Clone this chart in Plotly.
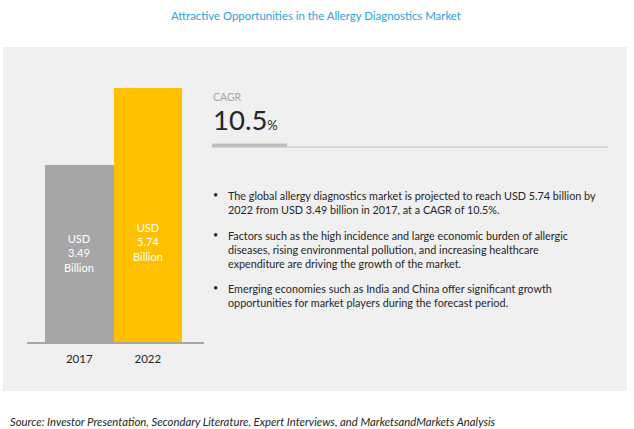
import plotly.graph_objects as go

W = 634
H = 429
FONT = "Lato"

years = ["2017", "2022"]
market_size = [3.49, 5.74]
bar_colors = ["#a6a6a6", "#ffc000"]
# bars in the source are not drawn from zero, the axis floor below reproduces their heights
axis_floor = -1.68

title = "Attractive Opportunities in the Allergy Diagnostics Market"
source = "<i>Source: Investor Presentation, Secondary Literature, Expert Interviews, and MarketsandMarkets Analysis</i>"
cagr = "10.5"
bullets = [
    "The global allergy diagnostics market is projected to reach USD 5.74 billion by<br>"
    "2022 from USD 3.49 billion in 2017, at a CAGR of 10.5%.",
    "Factors such as the high incidence and large economic burden of allergic<br>"
    "diseases, rising environmental pollution, and increasing healthcare<br>"
    "expenditure are driving the growth of the market.",
    "Emerging economies such as India and China offer significant growth<br>"
    "opportunities for market players during the forecast period.",
]
bullet_tops = [188.5, 228.5, 281.5]


def px_x(x):
    return x / W


def px_y(y):
    return 1 - y / H


def label(text, x, y, size, color="#262626", xanchor="left", yanchor="middle", align="left"):
    return dict(
        text=text, x=px_x(x), y=px_y(y), xref="paper", yref="paper",
        xanchor=xanchor, yanchor=yanchor, align=align, showarrow=False,
        font=dict(family=FONT, size=size, color=color),
        borderpad=0, borderwidth=0,
    )


fig = go.Figure()
fig.add_trace(
    go.Bar(
        x=years,
        y=[v - axis_floor for v in market_size],
        base=axis_floor,
        marker=dict(color=bar_colors, line=dict(width=0)),
        width=1,
        hoverinfo="skip",
    )
)

annotations = [
    label(title, 315.5, 15, 11.4, "#29a3d6", xanchor="center"),
    label(source, 10, 421, 11.3, "#262626"),
    label("CAGR", 213, 97, 10.5, "#a6a6a6"),
    label(f"{cagr}<span style='font-size:13px'>%</span>", 213, 119.5, 27.5),
    label(f"USD<br>{market_size[0]}<br>Billion", 79, 253, 11, "white", xanchor="center", align="center"),
    label(f"USD<br>{market_size[1]}<br>Billion", 148, 242, 11, "white", xanchor="center", align="center"),
]
for text, top in zip(bullets, bullet_tops):
    annotations.append(label("•", 213, top, 9, yanchor="top"))
    annotations.append(label(text, 228, top, 10.8, yanchor="top"))

shapes = [
    dict(type="rect", xref="paper", yref="paper", x0=px_x(3), x1=px_x(627), y0=px_y(391), y1=px_y(47),
         fillcolor="#f0f0f0", line_width=0, layer="below"),
    dict(type="rect", xref="paper", yref="paper", x0=px_x(212), x1=px_x(287), y0=px_y(147.5), y1=px_y(143.5),
         fillcolor="#bfbfbf", line_width=0, layer="below"),
    dict(type="line", xref="paper", yref="paper", x0=px_x(287), x1=px_x(608), y0=px_y(147), y1=px_y(147),
         line=dict(color="#bfbfbf", width=1), layer="below"),
]

fig.update_layout(
    width=W,
    height=H,
    margin=dict(l=0, r=0, t=0, b=0),
    paper_bgcolor="white",
    plot_bgcolor="rgba(0,0,0,0)",
    showlegend=False,
    bargap=0,
    annotations=annotations,
    shapes=shapes,
    xaxis=dict(
        domain=[px_x(27), px_x(204)],
        type="category",
        range=[-0.763, 1.82],
        showgrid=False,
        showline=True,
        linecolor="#a6a6a6",
        linewidth=2,
        ticks="outside",
        ticklen=5,
        tickcolor="rgba(0,0,0,0)",
        tickfont=dict(family=FONT, size=11.5, color="#262626"),
    ),
    yaxis=dict(domain=[px_y(342), px_y(88)], range=[axis_floor, market_size[1]], visible=False),
)

# default page margin would shift the figure by 8px
fig.write_html(
    "out.html",
    config=dict(displayModeBar=False),
    post_script="document.body.style.margin = '0';",
)
